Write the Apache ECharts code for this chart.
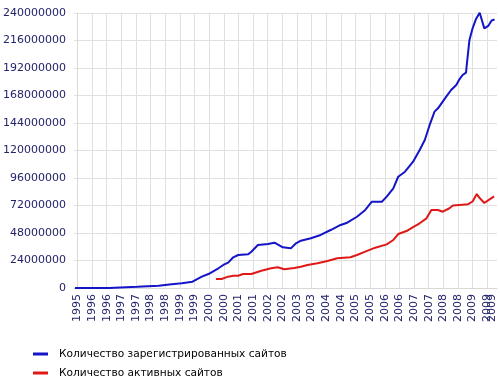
<!DOCTYPE html>
<html><head><meta charset="utf-8">
<script src="https://cdn.jsdelivr.net/npm/echarts@6/dist/echarts.min.js"></script>
<style>html,body{margin:0;padding:0;background:#fff}#c{width:500px;height:385px}</style>
</head><body><div id="c"></div>
<script>
// x = months since Aug 1995, y = millions of sites
const seriesNames = ['Количество зарегистрированных сайтов', 'Количество активных сайтов'];
const tickMonths = [0,6,12,18,24,30,36,42,48,54,60,66,72,78,84,90,96,102,108,114,120,126,132,138,144,150,156,162,168];
const tickLabels = ['1995','1996','1996','1997','1997','1998','1998','1999','1999','2000','2000','2001','2001','2002','2002','2003','2003','2004','2004','2005','2005','2006','2006','2007','2007','2008','2008','2009','2009'];
const lastTickMonth = [170];
const lastTickLabel = ['2009'];

const regMonths = [-1,13,13.5,24.5,25,33.3,33.8,38.6,39,42.8,43.3,47.2,47.7,51,53.7,57.8,59.8,61.8,63.9,65.9,70,71.3,74,78.1,80.8,84.2,87.5,89.6,91.6,95.7,99.7,103.8,107.9,110.6,114.6,118,120.7,124.8,126.8,129.5,131.5,134.3,137.6,140.3,142.4,144.4,146.4,147.8,151.2,153.2,155.3,156.6,157.9,159.3,159.6,160.7,162,163.4,164.9,165.7,166.8,168.4,169.8,171];
const regValues = [0.1,0.1,1.0,1.0,2.0,2.0,3.2,3.2,4.1,4.1,5.5,5.5,7.2,9.9,12.2,17.2,20.1,22.1,26.8,28.8,29.4,31.7,37.5,38.4,39.5,35.5,34.6,39.0,41.3,43.4,46.3,50.6,55.0,57.0,62.2,68.1,75.3,75.3,79.7,87.0,97.1,101.5,110.2,120.4,129.2,142.3,153.9,156.8,167.0,172.8,177.2,182.1,185.9,188.0,194.6,216.4,226.6,234.8,240.2,239.1,226.6,228.7,233.5,234.3];

const actMonths = [56.8,59.1,61.8,63.9,65.9,67.9,71.3,75.4,79.4,82.1,84.8,88.9,91.6,94.3,98.4,102.5,106.5,111.9,114.6,118,122.1,126.8,129.5,131.5,134.9,137.6,140.3,143.1,145.1,147.8,149.8,152.5,153.9,157.9,160,162,163.7,164.9,166.8,168.8,170.8];
const actValues = [7.9,7.9,9.9,10.7,10.7,12.2,12.2,15.1,17.2,18.1,16.3,17.5,18.6,20.1,21.6,23.6,25.9,26.8,28.8,31.7,35.2,38.1,41.9,47.1,49.7,53.2,56.5,60.8,68.1,68.1,66.6,69.6,72.0,72.7,73.0,75.5,82.0,78.5,74.2,77.1,80.0];

const zip = (xs, ys) => xs.map((x, i) => [x, ys[i]]);
const chart = echarts.init(document.getElementById('c'), null, {renderer: 'canvas'});
const labelColor = '#23236b';
const xLabelStyle = {rotate: 90, margin: 6, hideOverlap: false, fontFamily: 'DejaVu Sans', fontSize: 11, color: labelColor};
chart.setOption({
  animation: false,
  grid: {left: 71, right: 3, top: 13, bottom: 97, containLabel: false},
  legend: {
    orient: 'vertical', left: 33, top: 347, padding: 0,
    itemWidth: 15, itemHeight: 3, itemGap: 5,
    icon: 'rect',
    textStyle: {fontFamily: 'DejaVu Sans', fontSize: 10.6, color: '#000', lineHeight: 14, padding: [0,0,0,6]},
    data: seriesNames
  },
  xAxis: [{
    type: 'value', min: -1.4, max: 172, position: 'bottom',
    axisLine: {show: true, lineStyle: {color: '#d8d8d8', width: 1}},
    axisTick: {show: false, customValues: tickMonths},
    splitLine: {show: true, lineStyle: {color: '#e0e0e0', width: 1}},
    axisLabel: Object.assign({customValues: tickMonths,
      formatter: v => tickLabels[tickMonths.indexOf(v)]}, xLabelStyle)
  }, {
    type: 'value', min: -1.4, max: 172, position: 'bottom', offset: 0,
    axisLine: {show: false}, axisTick: {show: false, customValues: lastTickMonth},
    splitLine: {show: false},
    axisLabel: Object.assign({customValues: lastTickMonth,
      formatter: v => lastTickLabel[lastTickMonth.indexOf(v)]}, xLabelStyle)
  }],
  yAxis: {
    type: 'value', min: 0, max: 240, interval: 24,
    axisLine: {show: true, lineStyle: {color: '#d8d8d8'}},
    axisTick: {show: false},
    splitLine: {show: true, lineStyle: {color: '#e0e0e0', width: 1}},
    axisLabel: {
      margin: 8, fontFamily: 'DejaVu Sans', fontSize: 11, color: labelColor,
      formatter: v => String(Math.round(v * 1000000))
    }
  },
  series: [
    {name: seriesNames[0], type: 'line', data: zip(regMonths, regValues), showSymbol: false, symbol: 'none',
     lineStyle: {color: '#1414c8', width: 2}, itemStyle: {color: '#1414c8'}},
    {name: seriesNames[1], type: 'line', data: zip(actMonths, actValues), showSymbol: false, symbol: 'none',
     lineStyle: {color: '#e01818', width: 2}, itemStyle: {color: '#e01818'}}
  ]
});
</script></body></html>
